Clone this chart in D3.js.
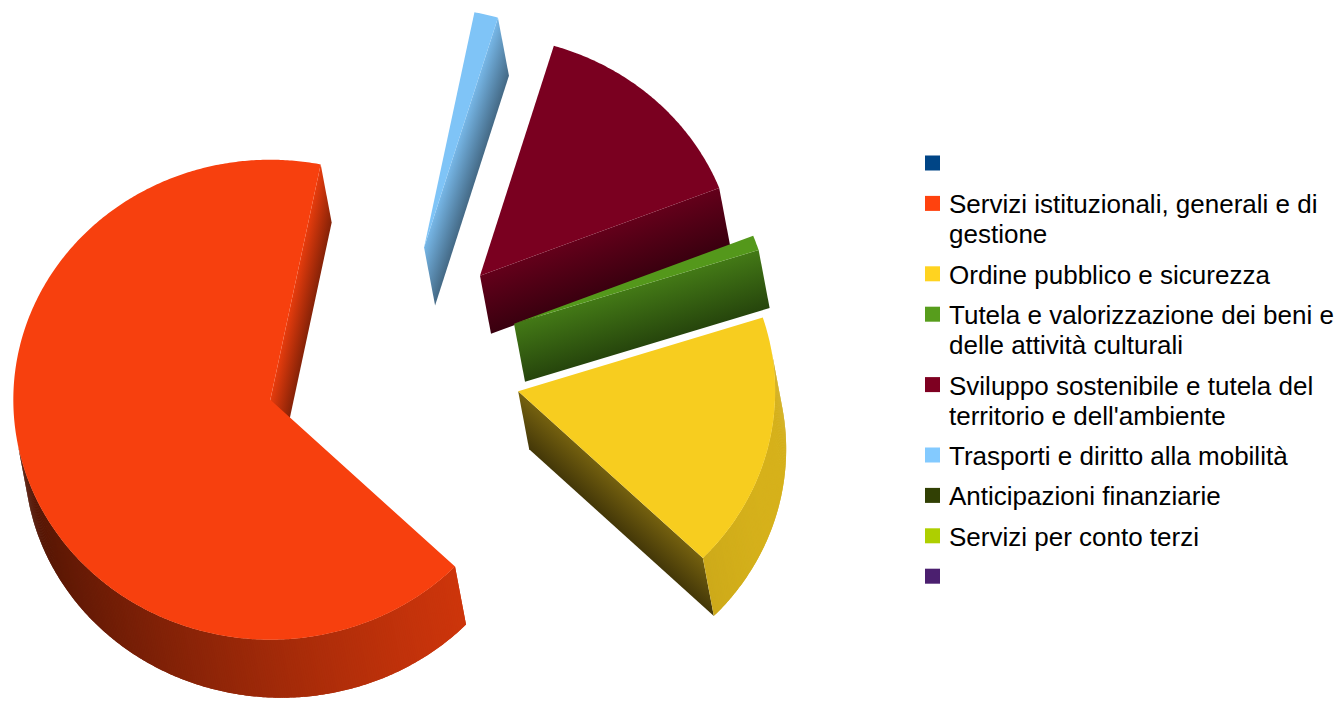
<!DOCTYPE html>
<html><head><meta charset="utf-8">
<script src="https://cdn.jsdelivr.net/npm/d3@7"></script>
<style>
body{margin:0;background:#fff}
svg{display:block}
text{font-family:"Liberation Sans",Arial,sans-serif}
</style>
</head><body>
<svg id="chart" width="1337" height="704"></svg>
<script>
// ---- data ----
const categories = [
  "",
  "Servizi istituzionali, generali e di gestione",
  "Ordine pubblico e sicurezza",
  "Tutela e valorizzazione dei beni e delle attività culturali",
  "Sviluppo sostenibile e tutela del territorio e dell'ambiente",
  "Trasporti e diritto alla mobilità",
  "Anticipazioni finanziarie",
  "Servizi per conto terzi",
  ""
];
const values = [0, 65.9, 17.2, 1.0, 14.4, 1.5, 0, 0, 0];
const colors = ["#004586","#ff420e","#ffd320","#579d1c","#7e0021","#83caff","#314004","#aecf00","#4b1f6f"];

// ---- layout / view ----
const W = 1337, H = 704;
const cx = 393, cy = 364, rx = 257, ry = 240;
const explode = 0.5;
const thick = [11, 58];
const startDeg = 78.7;
const lightDeg = 345;

const svg = d3.select("#chart");
svg.append("rect").attr("width", W).attr("height", H).attr("fill", "#fff");
const defs = svg.append("defs");

const xS = d3.scaleLinear().domain([-1, 1]).range([cx - rx, cx + rx]);
const yS = d3.scaleLinear().domain([-1, 1]).range([cy + ry, cy - ry]);

const data = categories.map((c, i) => ({name: c, value: values[i], color: colors[i], i}));
const arcs = d3.pie().sort(null).value(d => d.value)(data);

const rad = Math.PI / 180;
const start = startDeg * rad;
const phiF = Math.atan2(-thick[1] / ry, thick[0] / rx);   // front direction in disk plane
const phiL = lightDeg * rad;
const shade = th => 0.56 + 0.28 * Math.cos(th - phiL);
const tint = (c, f) => { const r = d3.rgb(c); return d3.rgb(Math.min(255, r.r * f), Math.min(255, r.g * f), Math.min(255, r.b * f)).toString(); };
const visible = n => Math.cos(n - phiF) > 0;

const slices = arcs.filter(a => a.endAngle - a.startAngle > 1e-6).map(a => {
  const a0 = start + a.startAngle, a1 = start + a.endAngle, mid = (a0 + a1) / 2;
  return {a, a0, a1, mid, ox: explode * Math.cos(mid), oy: explode * Math.sin(mid),
          depth: Math.cos(mid - phiF)};
}).sort((p, q) => p.depth - q.depth);

const g = svg.append("g");
let gid = 0;

slices.forEach(s => {
  const col = s.a.data.color;
  const P = (r, th, down) => {
    const x = xS(s.ox + r * Math.cos(th)), y = yS(s.oy + r * Math.sin(th));
    return down ? [x + thick[0], y + thick[1]] : [x, y];
  };
  const sg = g.append("g");
  const apex = P(0, 0, false), apexB = P(0, 0, true);

  // radial walls
  [[s.a0, s.a0 - Math.PI / 2], [s.a1, s.a1 + Math.PI / 2]].forEach(([th, n]) => {
    if (!visible(n)) return;
    const rim = P(1, th, false), rimB = P(1, th, true);
    const f = shade(n);
    const dx = rim[0] - apex[0], dy = rim[1] - apex[1], L = Math.hypot(dx, dy);
    const nx = -dy / L, ny = dx / L;
    const dot = thick[0] * nx + thick[1] * ny;
    const m = [(apex[0] + rim[0]) / 2, (apex[1] + rim[1]) / 2];
    const id = "gw" + (gid++);
    const lg = defs.append("linearGradient").attr("id", id).attr("gradientUnits", "userSpaceOnUse")
      .attr("x1", m[0]).attr("y1", m[1]).attr("x2", m[0] + dot * nx).attr("y2", m[1] + dot * ny);
    lg.append("stop").attr("offset", 0).attr("stop-color", tint(col, f * 1.08));
    lg.append("stop").attr("offset", 1).attr("stop-color", tint(col, f * 0.62));
    const p = d3.path();
    p.moveTo(...apex); p.lineTo(...rim); p.lineTo(...rimB); p.lineTo(...apexB); p.closePath();
    sg.append("path").attr("d", p.toString()).attr("fill", `url(#${id})`);
  });

  // outer wall: overlapping thin quads, no stroke (seamless)
  const n = Math.max(2, Math.ceil((s.a1 - s.a0) / (0.5 * rad)));
  const step = (s.a1 - s.a0) / n;
  for (let k = 0; k < n; k++) {
    const t0 = s.a0 + k * step, tm = t0 + step / 2;
    const t1 = Math.min(s.a1, t0 + step * 2);
    if (!visible(tm)) continue;
    const c = tint(col, shade(tm));
    const p = d3.path();
    p.moveTo(...P(1, t0, false));
    p.lineTo(...P(1, (t0 + t1) / 2, false));
    p.lineTo(...P(1, t1, false));
    p.lineTo(...P(1, t1, true));
    p.lineTo(...P(1, (t0 + t1) / 2, true));
    p.lineTo(...P(1, t0, true)); p.closePath();
    sg.append("path").attr("d", p.toString()).attr("fill", c);
  }

  // top face
  const tp = d3.path();
  tp.moveTo(...apex);
  for (let k = 0; k <= n; k++) tp.lineTo(...P(1, s.a0 + k * step, false));
  tp.closePath();
  sg.append("path").attr("d", tp.toString()).attr("fill", tint(col, 0.97));
});

// ---- legend ----
const legX = 925, textX = 949, sq = 15, lineH = 30, gap = 10.4, maxW = 385;
let base = 173;
const leg = svg.append("g");
data.forEach(d => {
  leg.append("rect").attr("x", legX).attr("y", base - 17.5).attr("width", sq).attr("height", sq).attr("fill", d.color);
  const t = leg.append("text").attr("x", textX).attr("y", base).attr("font-size", 26).attr("fill", "#000");
  const words = d.name.split(" ").filter(w => w.length);
  let line = [], lines = 0;
  let ts = t.append("tspan").attr("x", textX).attr("y", base);
  words.forEach(w => {
    line.push(w);
    ts.text(line.join(" "));
    if (ts.node().getComputedTextLength() > maxW && line.length > 1) {
      line.pop(); ts.text(line.join(" "));
      line = [w]; lines++;
      ts = t.append("tspan").attr("x", textX).attr("y", base + lines * lineH).text(w);
    }
  });
  base += (lines + 1) * lineH + gap;
});
</script>
</body></html>
